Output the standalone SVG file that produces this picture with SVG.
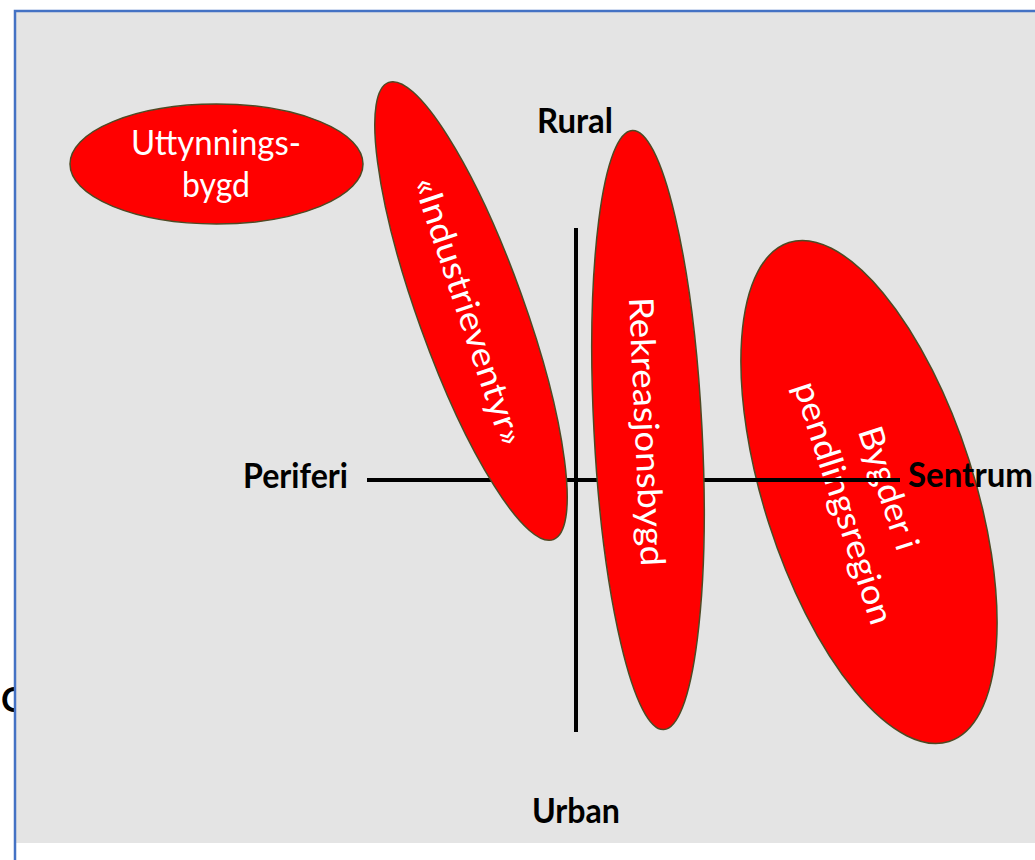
<svg xmlns="http://www.w3.org/2000/svg" width="1035" height="860" viewBox="0 0 1035 860">
<style>
.bg{fill:#e4e4e4}
.frame{fill:none;stroke:#4472C4;stroke-width:2.5}
.blob{fill:#ff0000;stroke:#4e4a24;stroke-width:1.5}
.wt{font-family:Lato,"Liberation Sans",sans-serif;font-size:34px;fill:#ffffff;text-anchor:middle}
.lb{font-family:Lato,"Liberation Sans",sans-serif;font-size:34px;font-weight:bold;fill:#000000}
.axis{stroke:#000000;stroke-width:4;fill:none}
</style>
<rect x="0" y="0" width="1035" height="860" fill="#ffffff"/>
<text class="lb" x="1" y="712">C</text>
<rect class="bg" x="16" y="12" width="1019" height="831"/>
<rect class="frame" x="15" y="11" width="1040" height="870"/>
<g id="node-bygder">
<ellipse class="blob" cx="869" cy="492" rx="105" ry="262" transform="rotate(-17.8 869 492)"/>
<g transform="translate(866.5 495.5) rotate(72)">
<text class="wt" x="0" y="-11.7" textLength="128" lengthAdjust="spacingAndGlyphs">Bygder i</text>
<text class="wt" x="0" y="35.7" textLength="253" lengthAdjust="spacingAndGlyphs">pendlingsregion</text>
</g>
</g>
<g id="connectors">
<line class="axis" x1="367" y1="480" x2="900" y2="480"/>
<line class="axis" x1="576" y1="228" x2="576" y2="732"/>
</g>
<g id="node-uttynning">
<ellipse class="blob" cx="216.5" cy="164" rx="146.5" ry="60"/>
<text class="wt" x="216" y="155" textLength="170" lengthAdjust="spacingAndGlyphs">Uttynnings-</text>
<text class="wt" x="216" y="197" textLength="68" lengthAdjust="spacingAndGlyphs">bygd</text>
</g>
<g id="node-industri">
<ellipse class="blob" cx="471" cy="311" rx="53" ry="243" transform="rotate(-19.8 471 311)"/>
<text class="wt" x="0" y="0" transform="translate(457.5 315) rotate(71.6)" textLength="280" lengthAdjust="spacingAndGlyphs">«Industrieventyr»</text>
</g>
<g id="node-rekreasjon">
<ellipse class="blob" cx="648" cy="430" rx="54" ry="300" transform="rotate(-3 648 430)"/>
<text class="wt" x="0" y="0" transform="translate(635 432) rotate(87.4)" textLength="269" lengthAdjust="spacingAndGlyphs">Rekreasjonsbygd</text>
</g>
<g id="labels">
<text class="lb" x="537" y="133" textLength="76" lengthAdjust="spacingAndGlyphs">Rural</text>
<text class="lb" x="243" y="488" textLength="105" lengthAdjust="spacingAndGlyphs">Periferi</text>
<text class="lb" x="908" y="487" textLength="125" lengthAdjust="spacingAndGlyphs">Sentrum</text>
<text class="lb" x="532" y="823" textLength="88" lengthAdjust="spacingAndGlyphs">Urban</text>
</g>
</svg>
